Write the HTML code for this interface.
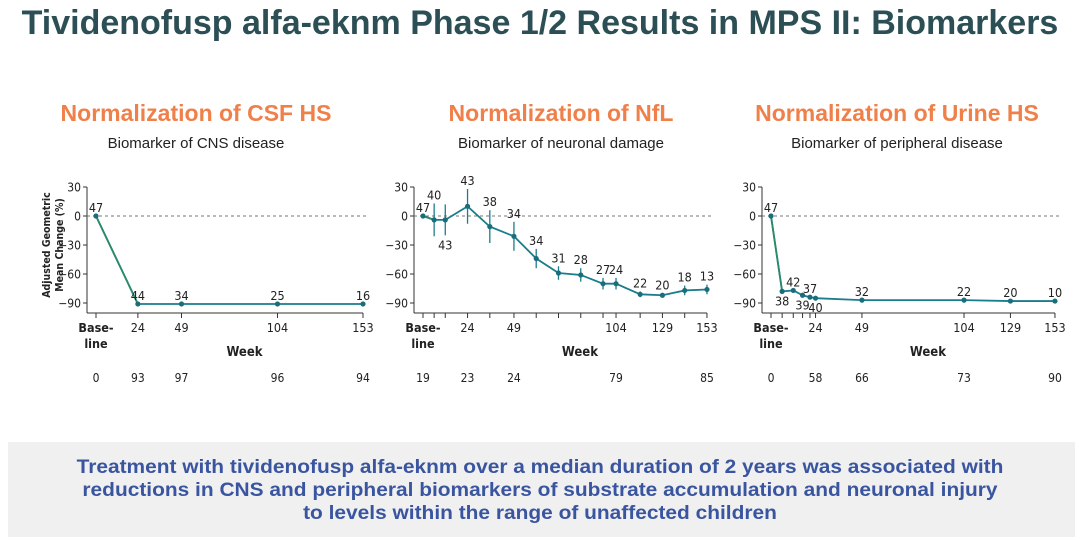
<!DOCTYPE html>
<html><head><meta charset="utf-8"><style>
body{margin:0;width:1080px;height:540px;background:#fff;font-family:"Liberation Sans",Arial,sans-serif;overflow:hidden;position:relative}
.title{position:absolute;left:0;width:1080px;top:4px;text-align:center;font-weight:bold;font-size:34px;color:#2b4f55;white-space:nowrap}
.h{position:absolute;font-weight:bold;font-size:23px;color:#f0804a;text-align:center;width:360px;top:100px}
.s{position:absolute;font-size:15px;color:#222;text-align:center;width:360px;top:135px}
.box{position:absolute;left:8px;top:442px;width:1067px;height:95px;background:#f0f0f0}
.msg{position:absolute;left:0;width:1080px;top:456px;text-align:center;font-weight:bold;font-size:19px;line-height:23px;color:#3a55a0;transform:scaleX(1.1);white-space:nowrap}
svg{position:absolute;left:0;top:0}
</style></head><body>
<div class="title">Tividenofusp alfa-eknm Phase 1/2 Results in MPS II: Biomarkers</div>
<div class="h" style="left:16px">Normalization of CSF HS</div>
<div class="s" style="left:16px">Biomarker of CNS disease</div>
<div class="h" style="left:381px">Normalization of NfL</div>
<div class="s" style="left:381px">Biomarker of neuronal damage</div>
<div class="h" style="left:717px">Normalization of Urine HS</div>
<div class="s" style="left:717px">Biomarker of peripheral disease</div>
<div class="box"></div>
<div class="msg">Treatment with tividenofusp alfa-eknm over a median duration of 2 years was associated with<br>reductions in CNS and peripheral biomarkers of substrate accumulation and neuronal injury<br>to levels within the range of unaffected children</div>
<svg id="chart" width="1080" height="540"></svg>
<script>
// Chart 1: CSF HS
const csfWeeks=[0,24,49,104,153];
const csfValues=[0,-91,-91,-91,-91];
const csfLabels=["47","44","34","25","16"];
const csfLabelPos=["above","above","above","above","above"];
const csfErr=[0,0,0,0,0];
const csfTickWeeks=[24,49,104,153];
const csfCountWeeks=[0,24,49,104,153];
const csfCounts=["0","93","97","96","94"];
// Chart 2: NfL
const nflWeeks=[0,6,12,24,36,49,61,73,85,97,104,117,129,141,153];
const nflValues=[0,-4,-4,10,-11,-21,-44,-59,-61,-70,-70,-81,-82,-77,-76];
const nflErr=[0,17,16,18,17,15,10,7,7,6,6,3,2,5,5];
const nflLabels=["47","40","43","43","38","34","34","31","28","27","24","22","20","18","13"];
const nflLabelPos=["above","above","below","above","above","above","above","above","above","above","above","above","above","above","above"];
const nflTickWeeks=[6,12,24,36,49,61,73,85,97,104,117,129,141,153];
const nflTickLabelWeeks=[24,49,104,129,153];
const nflCountWeeks=[0,24,49,104,153];
const nflCounts=["19","23","24","79","85"];
// Chart 3: Urine HS
const uWeeks=[0,6,12,17,21,24,49,104,129,153];
const uValues=[0,-78,-77,-82,-84,-85,-87,-87,-88,-88];
const uErr=[0,0,0,0,0,0,0,0,0,0];
const uLabels=["47","38","42","39","37","40","32","22","20","10"];
const uLabelPos=["above","below","above","below","above","below","above","above","above","above"];
const uTickWeeks=[6,12,17,21,24,49,104,129,153];
const uTickLabelWeeks=[24,49,104,129,153];
const uCountWeeks=[0,24,49,104,153];
const uCounts=["0","58","66","73","90"];
const yTicks=[30,0,-30,-60,-90];

const svg=document.getElementById('chart');
const NS='http://www.w3.org/2000/svg';
function mk(tag,attrs,parent){const e=document.createElementNS(NS,tag);for(const k in attrs)e.setAttribute(k,attrs[k]);(parent||svg).appendChild(e);return e;}
function txt(x,y,s,size,anchor,parent,weight){const t=mk('text',{x:x,y:y,'font-size':size,'text-anchor':anchor||'middle','font-family':'DejaVu Sans Condensed, Liberation Sans, sans-serif',fill:'#222','font-weight':weight||'normal'},parent);t.textContent=s;return t;}

function drawChart(cfg){
  const g=mk('g',{});
  
  
  const x=w=>cfg.x0+w*cfg.sx;
  const y=v=>216-v*(87/90);
  const axisX=cfg.x0-9, axisY=313, xEnd=x(153);
  const ya=mk('line',{x1:axisX,y1:y(30),x2:axisX,y2:axisY,stroke:'#333','stroke-width':1},g);
  
  
  yTicks.forEach(t=>{
    mk('line',{x1:axisX-4,y1:y(t),x2:axisX,y2:y(t),stroke:'#333'},g);
    const lb=txt(axisX-6,y(t)+4.5,t<0?'\u2212'+(-t):String(t),12,'end',g);
    
    
  });
  const xa=mk('line',{x1:axisX,y1:axisY,x2:xEnd,y2:axisY,stroke:'#333'},g);
  
  
  mk('line',{x1:x(0),y1:axisY,x2:x(0),y2:axisY+5,stroke:'#333'},g);
  cfg.ticks.forEach(w=>mk('line',{x1:x(w),y1:axisY,x2:x(w),y2:axisY+5,stroke:'#333'},g));
  cfg.tickLabels.forEach(w=>{const t=txt(x(w),axisY+19,String(w),12.5,'middle',g);});
  txt(x(0),axisY+19,'Base-',12.5,'middle',g,'bold');
  txt(x(0),axisY+35,'line',12.5,'middle',g,'bold');
  const wk=txt((x(0)+xEnd)/2+15,axisY+43,'Week',13,'middle',g,'bold');
  
  
  mk('line',{x1:axisX,y1:y(0),x2:xEnd+5,y2:y(0),stroke:'#777','stroke-dasharray':'3,3'},g);
  let d='';
  cfg.weeks.forEach((w,i)=>{d+=(i?'L':'M')+x(w)+','+y(cfg.values[i]);});
  const ln=mk('path',{d:d,fill:'none',stroke:'#1a7d8c','stroke-width':1.8},g);
  
  
  if(cfg.weeks.length>1){
    const seg=mk('line',{x1:x(cfg.weeks[0]),y1:y(cfg.values[0]),x2:x(cfg.weeks[1]),y2:y(cfg.values[1]),stroke:'#2a8a6a','stroke-width':1.8},g);
    
    
  }
  cfg.weeks.forEach((w,i)=>{
    const v=cfg.values[i],e=cfg.err[i];
    if(e>0){
      const eb=mk('line',{x1:x(w),y1:y(v+e),x2:x(w),y2:y(v-e),stroke:'#1a7d8c','stroke-width':1.3},g);
      
      
    }
    const p=mk('circle',{cx:x(w),cy:y(v),r:2.6,fill:'#1a6e7c'},g);
    
    
    const above=cfg.pos[i]==='above';
    const ly=above?y(v+e)-4:y(v-e)+14;
    const lb=txt(x(w),ly,cfg.labels[i],12.5,'middle',g);
    
    
  });
  cfg.countWeeks.forEach((w,i)=>{
    const c=txt(x(w),axisY+69,cfg.counts[i],12,'middle',g);
    
    
  });
}
drawChart({name:'csf-hs-chart',x0:96,sx:1.745,weeks:csfWeeks,values:csfValues,err:csfErr,labels:csfLabels,pos:csfLabelPos,ticks:csfTickWeeks,tickLabels:csfTickWeeks,countWeeks:csfCountWeeks,counts:csfCounts});
drawChart({name:'nfl-chart',x0:423,sx:1.856,weeks:nflWeeks,values:nflValues,err:nflErr,labels:nflLabels,pos:nflLabelPos,ticks:nflTickWeeks,tickLabels:nflTickLabelWeeks,countWeeks:nflCountWeeks,counts:nflCounts});
drawChart({name:'urine-hs-chart',x0:771,sx:1.856,weeks:uWeeks,values:uValues,err:uErr,labels:uLabels,pos:uLabelPos,ticks:uTickWeeks,tickLabels:uTickLabelWeeks,countWeeks:uCountWeeks,counts:uCounts});
const yt=mk('text',{x:0,y:0,'font-size':10.5,'font-weight':'bold','text-anchor':'middle','font-family':'DejaVu Sans Condensed, Liberation Sans, sans-serif',fill:'#222',transform:'translate(52,245) rotate(-90)'});


const t1=mk('tspan',{x:0,dy:-2},yt);t1.textContent='Adjusted Geometric';
const t2=mk('tspan',{x:0,dy:13},yt);t2.textContent='Mean Change (%)';
</script>
</body></html>
